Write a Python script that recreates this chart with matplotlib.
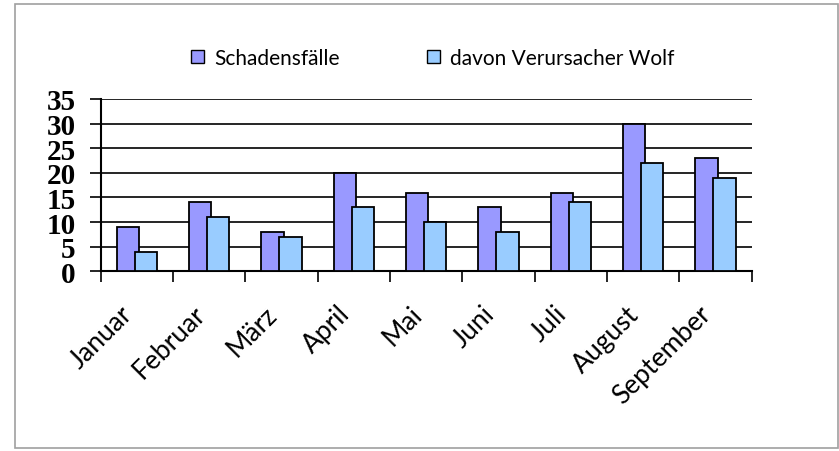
import matplotlib
matplotlib.use("Agg")
import matplotlib.pyplot as plt
from matplotlib.patches import Patch, Rectangle
from matplotlib.transforms import ScaledTranslation
import numpy as np

months = ["Januar", "Februar", "März", "April", "Mai", "Juni", "Juli", "August", "September"]
schadensfaelle = [9, 14, 8, 20, 16, 13, 16, 30, 23]
wolf = [4, 11, 7, 13, 10, 8, 14, 22, 19]
yticks = [0, 5, 10, 15, 20, 25, 30, 35]
series_names = ["Schadensfälle", "davon Verursacher Wolf"]

c1 = "#9999FF"
c2 = "#99CCFF"

fig = plt.figure(figsize=(8.39, 4.52), dpi=100)
ax = fig.add_axes([100.7/839, 1-272.3/452, (751.7-100.7)/839, (272.3-100)/452])

x = np.arange(len(months))
w = 0.31
off = 0.125
ax.bar(x - off, schadensfaelle, width=w, color=c1, edgecolor="black", linewidth=1.3, zorder=3)
ax.bar(x + off, wolf, width=w, color=c2, edgecolor="black", linewidth=1.3, zorder=3)

ax.set_xlim(-0.5, len(months) - 0.5)
ax.set_ylim(0, 35)
ax.set_yticks(yticks)
ax.set_yticklabels([str(v) for v in yticks], fontfamily="Liberation Serif", fontweight="bold", fontsize=21)
ax.yaxis.grid(True, color="black", linewidth=1.2, zorder=0)
ax.tick_params(axis="y", length=8, width=1.2, pad=10)

ax.set_xticks(np.arange(len(months) + 1) - 0.5)
ax.set_xticklabels([])
ax.tick_params(axis="x", which="major", length=8, width=1.2)
ax.set_xticks(x, minor=True)
ax.set_xticklabels(months, minor=True, rotation=45, ha="right", rotation_mode="anchor",
                   fontfamily="Lato", fontsize=19)
ax.tick_params(axis="x", which="minor", length=0, pad=22)
shift = ScaledTranslation(-17/100, 1/100, fig.dpi_scale_trans)
for lbl in ax.get_xticklabels(minor=True):
    lbl.set_transform(lbl.get_transform() + shift)

for s in ["top", "right"]:
    ax.spines[s].set_visible(False)
ax.spines["left"].set_linewidth(1.5)
ax.spines["bottom"].set_linewidth(1.5)
ax.set_axisbelow(True)

handles = [Patch(facecolor=c1, edgecolor="black", linewidth=1.0),
           Patch(facecolor=c2, edgecolor="black", linewidth=1.0)]
fig.legend(handles, series_names, loc="center", bbox_to_anchor=(433/839, 1-59/452), ncol=2,
           frameon=False, prop={"family": "Lato", "size": 15},
           handlelength=0.6, handleheight=0.6, handletextpad=0.5, columnspacing=4.2)

fig.patches.append(Rectangle((14.5/839, 1-449/452), (837.5-14.5)/839, (449-4.5)/452,
                             transform=fig.transFigure, fill=False, edgecolor="#A0A0A0",
                             linewidth=1.2))

fig.savefig("out.png", dpi=100)
